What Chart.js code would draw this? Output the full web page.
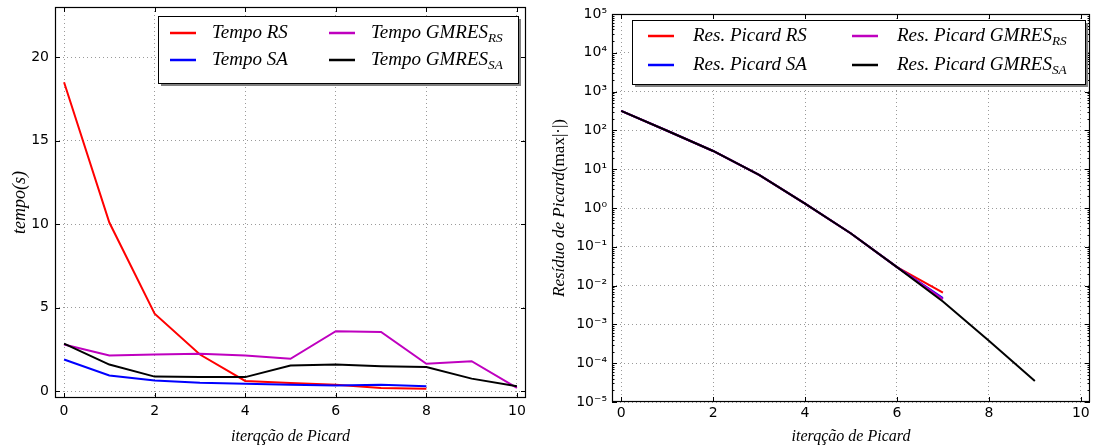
<!DOCTYPE html>
<html>
<head>
<meta charset="utf-8">
<script src="https://cdn.jsdelivr.net/npm/chart.js@4.4.1/dist/chart.umd.min.js"></script>
<style>
  body { margin: 0; background: #fff; }
  #wrap { position: relative; width: 1109px; height: 445px; }
  canvas { position: absolute; top: 0; }
  #cTempo { left: 0; }
  #cRes { left: 545px; }
</style>
</head>
<body>
<div id="wrap">
  <canvas id="cTempo" width="545" height="445"></canvas>
  <canvas id="cRes" width="564" height="445"></canvas>
</div>
<script>
/* ================= DADOS ================= */
const iteracoes = [0, 1, 2, 3, 4, 5, 6, 7, 8, 9, 10];
const xTicks = [0, 2, 4, 6, 8, 10];
const tempoTicks = [0, 5, 10, 15, 20];
const resTicks = [1e-5, 1e-4, 1e-3, 1e-2, 1e-1, 1, 10, 100, 1e3, 1e4, 1e5];

const tempoRS      = [18.5, 10.1, 4.65, 2.2, 0.62, 0.5, 0.4, 0.2, 0.15];
const tempoSA      = [1.9, 0.95, 0.65, 0.52, 0.45, 0.4, 0.35, 0.4, 0.3];
const tempoGmresRS = [2.8, 2.15, 2.2, 2.25, 2.15, 1.95, 3.6, 3.55, 1.65, 1.8, 0.2];
const tempoGmresSA = [2.85, 1.6, 0.88, 0.85, 0.85, 1.55, 1.6, 1.5, 1.45, 0.76, 0.3];

const resRS      = [320, 98, 29.5, 7.1, 1.3, 0.22, 0.03, 0.0066];
const resSA      = [320, 98, 29.5, 7.1, 1.3, 0.22, 0.03, 0.0048];
const resGmresRS = [320, 98, 29.5, 7.1, 1.3, 0.22, 0.03, 0.0045];
const resGmresSA = [320, 98, 29.5, 7.1, 1.3, 0.22, 0.03, 0.0039, 0.00038, 0.000035];

const CORES = ["#ff0000", "#0000ff", "#bf00bf", "#000000"];

/* ================= HELPERS ================= */
const pts = arr => arr.map((v, i) => ({ x: iteracoes[i], y: v }));
const sup = { "-": "⁻", "0": "⁰", "1": "¹", "2": "²", "3": "³", "4": "⁴", "5": "⁵" };
const potencia = v => "10" + String(Math.round(Math.log10(v))).split("").map(c => sup[c]).join("");
const TICK_FONT = { family: "DejaVu Sans", size: 14 };
const SERIF = "'Liberation Serif', 'DejaVu Serif', serif";
const semPadding = s => { s.paddingTop = 0; s.paddingBottom = 0; s.paddingLeft = 0; s.paddingRight = 0; };

function serie(label, data, i) {
  return {
    label, data: pts(data),
    borderColor: CORES[i], backgroundColor: CORES[i],
    borderWidth: 2, pointRadius: 0, tension: 0, fill: false,
    order: 4 - i
  };
}

// texto com partes italico / normal (e subscrito)
function drawParts(ctx, parts, cx, cy, size, rot) {
  ctx.save();
  ctx.translate(cx, cy);
  if (rot) ctx.rotate(-Math.PI / 2);
  ctx.textBaseline = "middle";
  ctx.textAlign = "left";
  const fontOf = p => (p.italic ? "italic " : "") + (p.sub ? size * 0.7 : size) + "px " + SERIF;
  let total = 0;
  parts.forEach(p => { ctx.font = fontOf(p); total += ctx.measureText(p.text).width; });
  let x = -total / 2;
  parts.forEach(p => {
    ctx.font = fontOf(p);
    ctx.fillStyle = "#000";
    ctx.fillText(p.text, x, p.sub ? size * 0.28 : 0);
    x += ctx.measureText(p.text).width;
  });
  ctx.restore();
}

/* ================= PLUGIN ESTILO MATPLOTLIB ================= */
const mplPlugin = {
  id: "mpl",
  afterDraw(chart, args, opts) {
    const { ctx, chartArea: a, scales } = chart;
    const xs = scales.x, ys = scales.y;
    ctx.save();
    ctx.strokeStyle = "#000";
    ctx.lineWidth = 1;

    /* ticks para dentro */
    ctx.beginPath();
    xs.ticks.forEach(t => {
      const px = Math.round(xs.getPixelForValue(t.value)) + 0.5;
      ctx.moveTo(px, a.bottom); ctx.lineTo(px, a.bottom - 5);
      ctx.moveTo(px, a.top); ctx.lineTo(px, a.top + 5);
    });
    ys.ticks.forEach(t => {
      const py = Math.round(ys.getPixelForValue(t.value)) + 0.5;
      ctx.moveTo(a.left, py); ctx.lineTo(a.left + 5, py);
      ctx.moveTo(a.right, py); ctx.lineTo(a.right - 5, py);
    });
    if (opts.minor) {
      for (let k = -5; k < 5; k++) {
        for (let m = 2; m <= 9; m++) {
          const py = Math.round(ys.getPixelForValue(m * Math.pow(10, k))) + 0.5;
          ctx.moveTo(a.left, py); ctx.lineTo(a.left + 2.5, py);
          ctx.moveTo(a.right, py); ctx.lineTo(a.right - 2.5, py);
        }
      }
    }
    ctx.stroke();

    /* moldura */
    ctx.lineWidth = 1.2;
    ctx.strokeRect(a.left + 0.5, a.top + 0.5, a.width - 1, a.height - 1);

    /* legenda */
    const L = opts.legend;
    ctx.fillStyle = "#808080";
    ctx.fillRect(L.x + 3, L.y + 3, L.w, L.h);
    ctx.fillStyle = "#fff";
    ctx.fillRect(L.x, L.y, L.w, L.h);
    ctx.strokeStyle = "#000";
    ctx.lineWidth = 1;
    ctx.strokeRect(L.x + 0.5, L.y + 0.5, L.w, L.h);
    chart.data.datasets.forEach((d, i) => {
      const col = Math.floor(i / 2), row = i % 2;
      const y = L.y + L.rows[row];
      const x0 = L.x + L.cols[col];
      ctx.strokeStyle = d.borderColor;
      ctx.lineWidth = 2.5;
      ctx.beginPath();
      ctx.moveTo(x0, y); ctx.lineTo(x0 + 26, y);
      ctx.stroke();
      const [txt, sub] = d.label.split("_");
      const parts = [{ text: txt, italic: true }];
      if (sub) parts.push({ text: sub, italic: true, sub: true });
      ctx.font = "italic " + L.size + "px " + SERIF;
      let w = ctx.measureText(txt).width;
      if (sub) { ctx.font = "italic " + L.size * 0.7 + "px " + SERIF; w += ctx.measureText(sub).width; }
      drawParts(ctx, parts, x0 + L.textGap + w / 2, y, L.size, false);
    });

    /* titulos dos eixos */
    drawParts(ctx, opts.xTitle.parts, (a.left + a.right) / 2, opts.xTitle.y, opts.xTitle.size, false);
    drawParts(ctx, opts.yTitle.parts, opts.yTitle.x, (a.top + a.bottom) / 2, opts.yTitle.size, true);
    ctx.restore();
  }
};

const gridCfg = { color: "#9a9a9a", lineWidth: 1, drawTicks: false };
const borderCfg = { display: false, dash: [1, 3] };

/* ================= GRAFICA TEMPO ================= */
new Chart(document.getElementById("cTempo"), {
  type: "line",
  data: {
    datasets: [
      serie("Tempo RS", tempoRS, 0),
      serie("Tempo SA", tempoSA, 1),
      serie("Tempo GMRES_RS", tempoGmresRS, 2),
      serie("Tempo GMRES_SA", tempoGmresSA, 3)
    ]
  },
  options: {
    responsive: false,
    animation: false,
    layout: { padding: { top: 7, right: 19, left: 0, bottom: 0 } },
    scales: {
      x: {
        type: "linear", min: -0.2, max: 10.2,
        afterBuildTicks: s => { s.ticks = xTicks.map(v => ({ value: v })); },
        afterFit: s => { s.height = 47; semPadding(s); },
        ticks: { font: TICK_FONT, color: "#000", padding: 5, autoSkip: false, maxRotation: 0 },
        grid: gridCfg, border: borderCfg
      },
      y: {
        type: "linear", min: -0.4, max: 23,
        afterBuildTicks: s => { s.ticks = tempoTicks.map(v => ({ value: v })); },
        afterFit: s => { s.width = 55; semPadding(s); },
        ticks: { font: TICK_FONT, color: "#000", padding: 6, autoSkip: false },
        grid: gridCfg, border: borderCfg
      }
    },
    plugins: {
      legend: { display: false },
      tooltip: { enabled: false },
      mpl: {
        minor: false,
        legend: { x: 158, y: 16, w: 360, h: 67, rows: [17, 44], cols: [12, 171], textGap: 42, size: 19 },
        xTitle: { y: 437, size: 16, parts: [{ text: "iterqção de Picard", italic: true }] },
        yTitle: { x: 20, size: 18, parts: [{ text: "tempo", italic: true }, { text: "(s)", italic: true }] }
      }
    }
  },
  plugins: [mplPlugin]
});

/* ================= GRAFICA RESIDUO ================= */
new Chart(document.getElementById("cRes"), {
  type: "line",
  data: {
    datasets: [
      serie("Res. Picard RS", resRS, 0),
      serie("Res. Picard SA", resSA, 1),
      serie("Res. Picard GMRES_RS", resGmresRS, 2),
      serie("Res. Picard GMRES_SA", resGmresSA, 3)
    ]
  },
  options: {
    responsive: false,
    animation: false,
    layout: { padding: { top: 14, right: 19, left: 0, bottom: 0 } },
    scales: {
      x: {
        type: "linear", min: -0.2, max: 10.2,
        afterBuildTicks: s => { s.ticks = xTicks.map(v => ({ value: v })); },
        afterFit: s => { s.height = 43; semPadding(s); },
        ticks: { font: TICK_FONT, color: "#000", padding: 3, autoSkip: false, maxRotation: 0 },
        grid: gridCfg, border: borderCfg
      },
      y: {
        type: "logarithmic", min: 1e-5, max: 1e5,
        afterBuildTicks: s => { s.ticks = resTicks.map(v => ({ value: v, major: true })); },
        afterFit: s => { s.width = 67; semPadding(s); },
        ticks: { font: TICK_FONT, color: "#000", padding: 5, autoSkip: false, callback: v => potencia(v) },
        grid: gridCfg, border: borderCfg
      }
    },
    plugins: {
      legend: { display: false },
      tooltip: { enabled: false },
      mpl: {
        minor: true,
        legend: { x: 87, y: 20, w: 453, h: 64, rows: [16, 45], cols: [16, 220], textGap: 45, size: 19 },
        xTitle: { y: 437, size: 16, parts: [{ text: "iterqção de Picard", italic: true }] },
        yTitle: { x: 15, size: 17, parts: [{ text: "Resíduo de Picard", italic: true }, { text: "(max|·|)", italic: false }] }
      }
    }
  },
  plugins: [mplPlugin]
});
</script>
</body>
</html>
